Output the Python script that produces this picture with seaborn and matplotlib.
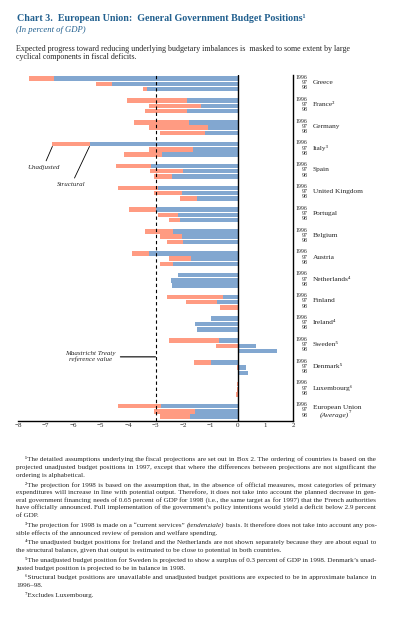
import matplotlib
matplotlib.use('Agg')
import matplotlib.pyplot as plt
import numpy as np
import pandas as pd
import seaborn as sns

# Data (percent of GDP); rows are 1996, 97, 98
countries = ['Greece', 'France²', 'Germany', 'Italy³', 'Spain', 'United Kingdom',
             'Portugal', 'Belgium', 'Austria', 'Netherlands⁴', 'Finland', 'Ireland⁴',
             'Sweden⁵', 'Denmark⁵', 'Luxembourg⁶', 'European Union']
years = ['1996', '97', '98']
nan = np.nan
unadjusted = [[-7.6, -5.15, -3.45], [-4.05, -3.25, -3.4], [-3.8, -3.25, -2.85],
              [-6.75, -3.25, -4.15], [-4.45, -3.2, -3.05], [-4.35, -3.05, -2.1],
              [-3.95, -2.9, -2.5], [-3.4, -2.85, -2.6], [-3.85, -2.5, -2.85],
              [nan, nan, nan], [-2.6, -1.9, -0.65], [nan, nan, nan],
              [-2.5, -0.8, 0.3], [-1.6, -0.05, 0.0], [-0.03, -0.02, -0.07],
              [-4.35, -3.05, -2.85]]
structural = [[-6.7, -4.6, -3.3], [-1.85, -1.35, -1.85], [-1.8, -1.1, -1.2],
              [-5.4, -1.65, -2.75], [-3.15, -2.0, -2.4], [-2.9, -2.05, -1.5],
              [-3.0, -2.2, -2.1], [-2.35, -2.05, -2.0], [-3.25, -1.7, -2.35],
              [-2.2, -2.45, -2.4], [-0.55, -0.75, nan], [-1.0, -1.55, -1.5],
              [-0.7, 0.65, 1.4], [-1.0, 0.3, 0.35], [nan, nan, nan],
              [-2.8, -1.55, -1.75]]
maastricht = -3.0
xticks = list(range(-8, 3))

group_step = 4.15
rows = []
for i, c in enumerate(countries):
    for j, yr in enumerate(years):
        pos = round(i * group_step + j, 3)
        rows.append({'country': c, 'year': yr, 'pos': pos, 'kind': 'Unadjusted', 'value': unadjusted[i][j]})
        rows.append({'country': c, 'year': yr, 'pos': pos, 'kind': 'Structural', 'value': structural[i][j]})
df = pd.DataFrame(rows).dropna()

salmon = '#FF9B82'
blue = '#82A7D0'
title_blue = '#22608F'

sns.set_style('white')
plt.rcParams['font.family'] = ['Liberation Serif', 'DejaVu Serif']

fig = plt.figure(figsize=(3.93, 6.29), dpi=100)
W, H = 393, 629
ax = fig.add_axes([18 / W, 1 - 421 / H, 275 / W, 346 / H])

sns.barplot(data=df[df['kind'] == 'Unadjusted'], x='value', y='pos', orient='y',
            native_scale=True, color=salmon, saturation=1, width=0.86,
            errorbar=None, linewidth=0, ax=ax)
sns.barplot(data=df[df['kind'] == 'Structural'], x='value', y='pos', orient='y',
            native_scale=True, color=blue, saturation=1, width=0.86,
            errorbar=None, linewidth=0, ax=ax)

ax.axvline(0, color='black', lw=1.0, zorder=5)
ax.axvline(maastricht, color='black', lw=0.8, ls=(0, (3, 2.5)), zorder=5)

ax.set_xlim(-8, 2)
ax.set_ylim(65.1, -0.7)
ax.set_xlabel('')
ax.set_ylabel('')
ax.set_yticks([])
ax.set_xticks(xticks)
ax.set_xticklabels([f'{t}'.replace('-', '−') for t in xticks], fontsize=5)
ax.tick_params(axis='x', direction='in', length=3.6, width=0.8, pad=1.5)
for s in ['left', 'top']:
    ax.spines[s].set_visible(False)
for s in ['right', 'bottom']:
    ax.spines[s].set_color('black')
    ax.spines[s].set_linewidth(1.0)

# year and country labels on the right
for i, c in enumerate(countries):
    base = i * group_step
    for j, yr in enumerate(years):
        ax.text(2.53, base + j - 0.25, yr, fontsize=4.2, ha='right', va='center',
                clip_on=False)
    if c == 'European Union':
        ax.text(2.72, base + 0.2, c, fontsize=5.3, ha='left', va='center')
        ax.text(2.98, base + 1.65, '(Average)', fontsize=5.3, style='italic',
                ha='left', va='center')
        ax.text(4.02, base + 1.45, '⁷', fontsize=5.3, ha='left', va='center')
    else:
        ax.text(2.72, base + 0.75, c, fontsize=5.3, ha='left', va='center')

# annotations
it = countries.index('Italy³')
ax.annotate('Unadjusted', xy=(unadjusted[it][0], it * group_step + 0.43),
            xytext=(-6.5, -15), textcoords='offset points', fontsize=5,
            style='italic', ha='center', va='center',
            arrowprops=dict(arrowstyle='-', lw=0.6, color='black', shrinkA=0.5, shrinkB=0))
ax.annotate('Structural', xy=(structural[it][0], it * group_step + 0.43),
            xytext=(-13, -27.4), textcoords='offset points', fontsize=5,
            style='italic', ha='center', va='center',
            arrowprops=dict(arrowstyle='-', lw=0.6, color='black', shrinkA=0.5, shrinkB=0))
ax.annotate('Maastricht Treaty\nreference value', xy=(maastricht, 52.9),
            xytext=(-46.8, 0), textcoords='offset points', fontsize=5,
            style='italic', ha='center', va='center', linespacing=1.1,
            arrowprops=dict(arrowstyle='-', lw=0.8, color='black', shrinkA=1, shrinkB=0))

# header
fig.text(17 / W, 1 - 18.3 / H, 'Chart 3.  European Union:  General Government Budget Positions¹',
         fontsize=7.2, fontweight='bold', color=title_blue, va='center')
fig.text(16 / W, 1 - 29.7 / H, '(In percent of GDP)', fontsize=6.2, style='italic',
         color=title_blue, va='center')
fig.text(16 / W, 1 - 49 / H, 'Expected progress toward reducing underlying budgetary '
         'imbalances is  masked to some extent by large', fontsize=5.75, va='center')
fig.text(16 / W, 1 - 56.7 / H, 'cyclical components in fiscal deficits.', fontsize=5.75,
         va='center')

# footnotes, set line by line and justified like the original
footnotes = [
    ['¹The detailed assumptions underlying the fiscal projections are set out in Box 2. The ordering of countries is based on the',
     'projected unadjusted budget positions in 1997, except that where the differences between projections are not significant the',
     'ordering is alphabetical.'],
    ['²The projection for 1998 is based on the assumption that, in the absence of official measures, most categories of primary',
     'expenditures will increase in line with potential output. Therefore, it does not take into account the planned decrease in gen-',
     'eral government financing needs of 0.65 percent of GDP for 1998 (i.e., the same target as for 1997) that the French authorities',
     'have officially announced. Full implementation of the government’s policy intentions would yield a deficit below 2.9 percent',
     'of GDP.'],
    ['³The projection for 1998 is made on a “current services” *(tendenziale)* basis. It therefore does not take into account any pos-',
     'sible effects of the announced review of pension and welfare spending.'],
    ['⁴The unadjusted budget positions for Ireland and the Netherlands are not shown separately because they are about equal to',
     'the structural balance, given that output is estimated to be close to potential in both countries.'],
    ['⁵The unadjusted budget position for Sweden is projected to show a surplus of 0.3 percent of GDP in 1998. Denmark’s unad-',
     'justed budget position is projected to be in balance in 1998.'],
    ['⁶Structural budget positions are unavailable and unadjusted budget positions are expected to be in approximate balance in',
     '1996–98.'],
    ['⁷Excludes Luxembourg.'],
]

renderer = fig.canvas.get_renderer()
fn_size = 5.1
left, indent, right = 16, 25, 376
HAIR = '\u200a'


def measure(s, style='normal'):
    t = fig.text(0, 0, s, fontsize=fn_size, style=style)
    w = t.get_window_extent(renderer).width
    t.remove()
    return w


space = measure('a b') - measure('ab')
hair = measure('a' + HAIR + 'b') - measure('ab')
if hair < 0.3:
    HAIR = '\u2009'
    hair = measure('a' + HAIR + 'b') - measure('ab')


def set_line(line, x0, yb, justify):
    tokens = []
    for w in line.split(' '):
        if w.startswith('*'):
            tokens.append((w.strip('*'), 'italic'))
        else:
            tokens.append((w, 'normal'))
    widths = [measure(w, st) for w, st in tokens]
    n = len(tokens)
    extra = 0.0
    if justify and n > 1:
        extra = (right - x0 - sum(widths) - space * (n - 1)) / (n - 1)
    counts, acc = [], 0.0
    for g in range(n - 1):
        acc += max(extra, 0) / hair
        counts.append(int(round(acc)) - sum(counts))
    # words of the same style go into one text so they share one baseline
    seg_words, seg_style, seg_x = [tokens[0][0]], tokens[0][1], x0
    for g in range(1, n):
        w, st = tokens[g]
        if st == seg_style:
            seg_words.append(HAIR * counts[g - 1] + w)
        else:
            fig.text(seg_x / W, 1 - yb / H, ' '.join(seg_words), fontsize=fn_size,
                     style=seg_style, va='baseline')
            seg_x = x0 + sum(widths[:g]) + g * space + hair * sum(counts[:g])
            seg_words, seg_style = [w], st
    fig.text(seg_x / W, 1 - yb / H, ' '.join(seg_words), fontsize=fn_size,
             style=seg_style, va='baseline')


y = 461.5  # baseline of the first line, in pixels from the top
for para in footnotes:
    for k, line in enumerate(para):
        set_line(line, indent if k == 0 else left, y, k < len(para) - 1)
        y += 7.6
    y += 2.3

fig.savefig('out.png', dpi=100)
